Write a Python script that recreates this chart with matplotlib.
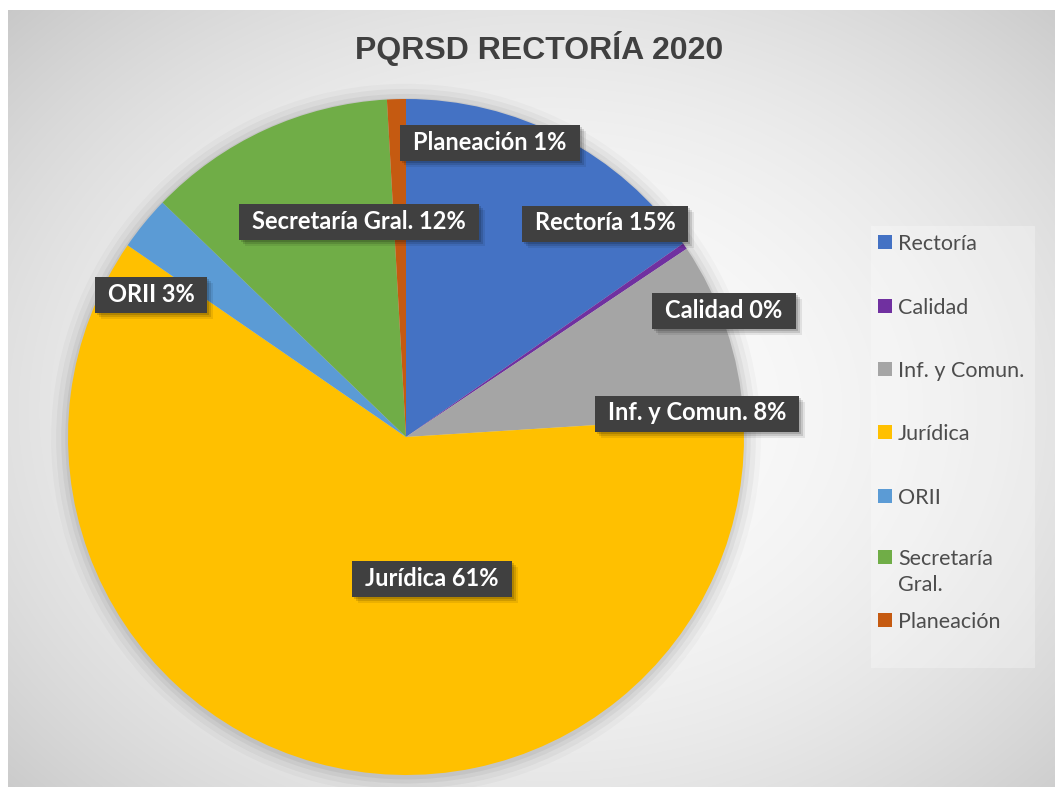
import numpy as np
import matplotlib
matplotlib.use("Agg")
import matplotlib.pyplot as plt
from matplotlib.patches import Rectangle, Circle
from matplotlib.transforms import IdentityTransform

# ---- data ----
categories = ["Rectoría", "Calidad", "Inf. y Comun.", "Jurídica", "ORII", "Secretaría Gral.", "Planeación"]
legend_labels = ["Rectoría", "Calidad", "Inf. y Comun.", "Jurídica", "ORII", "Secretaría\nGral.", "Planeación"]
percentages = [15.3, 0.3, 8.4, 60.6, 2.6, 11.9, 0.9]
colors = ["#4472C4", "#7030A0", "#A5A5A5", "#FFC000", "#5B9BD5", "#70AD47", "#C55A11"]
title = "PQRSD RECTORÍA 2020"

# label centres (pixel positions in the figure, layout only)
label_px = [(605, 223), (724, 310), (697, 413), (432, 578), (151, 294), (359, 222), (490, 142)]

W, H = 1055, 787
fig = plt.figure(figsize=(W / 100, H / 100), dpi=100)
fig.patch.set_facecolor("white")

# ---- background gradient ----
bg = fig.add_axes([8 / W, 0, 1 - 8 / W, 1 - 10 / H])
bg.set_axis_off()
yy, xx = np.mgrid[0:777, 0:1047]
cx, cy = 540, 400
r2 = ((xx - cx) / 540.0) ** 2 + ((yy - cy) / 420.0) ** 2
val = np.clip(252 - 27 * r2, 185, 255) / 255.0
img = np.dstack([val, val, val])
bg.imshow(img, aspect="auto", extent=[0, 1, 0, 1], origin="upper", interpolation="bilinear")
bg.set_xlim(0, 1)
bg.set_ylim(0, 1)

# ---- pie ----
pcx, pcy, R = 406, 437, 338
ax = fig.add_axes([(pcx - R) / W, (H - pcy - R) / H, 2 * R / W, 2 * R / H])
ax.set_axis_off()
# soft shadow around the pie
for k, a in [(1.05, 0.025), (1.035, 0.035), (1.02, 0.045), (1.008, 0.05)]:
    ax.add_patch(Circle((0.0, -0.005), k, color="black", alpha=a, lw=0, zorder=0, clip_on=False))
wedges, _ = ax.pie(percentages, colors=colors, startangle=90, counterclock=False,
                   radius=1.0, wedgeprops=dict(linewidth=0, clip_on=False))
ax.set_xlim(-1, 1)
ax.set_ylim(-1, 1)
ax.set_aspect("auto")

# ---- title ----
fig.text(539 / W, 1 - 49 / H, title, ha="center", va="center", fontsize=23,
         fontweight="bold", color="#404040",
         family=["Liberation Sans Narrow", "Liberation Sans", "DejaVu Sans"])

# ---- data labels ----
texts = []
for name, p, (lx, ly) in zip(categories, percentages, label_px):
    t = fig.text(lx / W, 1 - ly / H, f"{name} {int(p + 0.5)}%", ha="center", va="center",
                 fontsize=17, fontweight="bold", color="white", family=["Lato", "DejaVu Sans"],
                 zorder=10)
    texts.append(t)

fig.canvas.draw()
rend = fig.canvas.get_renderer()
for t in texts:
    bb = t.get_window_extent(rend)
    x0, y0 = bb.x0 - 13, bb.y0 - 7
    w, h = bb.width + 26, bb.height + 13
    for off, a in [((6, -6), 0.08), ((4, -4), 0.12), ((2, -2), 0.15)]:
        fig.patches.append(Rectangle((x0 + off[0], y0 + off[1]), w, h, transform=IdentityTransform(),
                                     facecolor="black", alpha=a, lw=0, zorder=8, figure=fig))
    fig.patches.append(Rectangle((x0, y0), w, h, transform=IdentityTransform(),
                                 facecolor="#404040", lw=0, zorder=9, figure=fig))

# ---- legend ----
fig.patches.append(Rectangle((871 / W, 1 - 668 / H), 164 / W, 442 / H, transform=fig.transFigure,
                             facecolor="white", alpha=0.28, lw=0, zorder=5, figure=fig))
leg_y = [242, 306, 369, 432, 496, 570, 620]
for lab, c, y in zip(legend_labels, colors, leg_y):
    top_y = y if "\n" not in lab else 557
    fig.patches.append(Rectangle((878 / W, 1 - (top_y + 7) / H), 14 / W, 14 / H,
                                 transform=fig.transFigure, facecolor=c, lw=0, zorder=6, figure=fig))
    fig.text(898 / W, 1 - top_y / H, lab.split("\n")[0], ha="left", va="center_baseline",
             fontsize=15.5, color="#4d4d4d", family=["Lato", "DejaVu Sans"], zorder=7)
    if "\n" in lab:
        fig.text(898 / W, 1 - (top_y + 26) / H, lab.split("\n")[1], ha="left", va="center_baseline",
                 fontsize=15.5, color="#4d4d4d", family=["Lato", "DejaVu Sans"], zorder=7)

fig.savefig("out.png", dpi=100)
